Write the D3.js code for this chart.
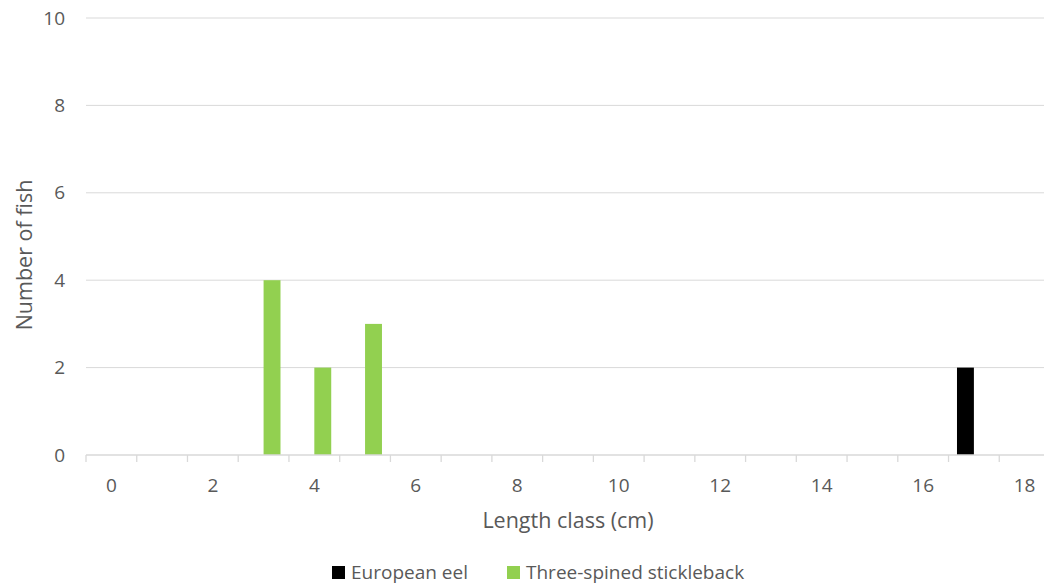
<!DOCTYPE html>
<html>
<head>
<meta charset="utf-8">
<script src="https://cdn.jsdelivr.net/npm/d3@7"></script>
<style>
  html, body { margin: 0; padding: 0; background: #fff; }
  svg { display: block; }
  text { font-family: "Open Sans", "Liberation Sans", sans-serif; fill: #595959; }
</style>
</head>
<body>
<svg id="chart" width="1044" height="584"></svg>
<script>
const categories = [0,1,2,3,4,5,6,7,8,9,10,11,12,13,14,15,16,17,18];
const seriesNames = ["European eel", "Three-spined stickleback"];
const eelValues = [0,0,0,0,0,0,0,0,0,0,0,0,0,0,0,0,0,2,0];
const sticklebackValues = [0,0,0,4,2,3,0,0,0,0,0,0,0,0,0,0,0,0,0];
const yTicks = [0,2,4,6,8,10];
const seriesColors = ["#000000", "#92D050"];

const svg = d3.select("#chart");
const plotLeft = 86, plotRight = 1050, plotTop = 18, plotBottom = 455;

const x0 = d3.scaleBand().domain(categories).range([plotLeft, plotRight]).paddingInner(0).paddingOuter(0);
const x1 = d3.scaleBand().domain(seriesNames).range([0, x0.bandwidth()]).paddingInner(0).paddingOuter(0.5);
const y = d3.scaleLinear().domain([0, 10]).range([plotBottom, plotTop]);

// gridlines
svg.append("g").selectAll("line").data(yTicks.filter(d => d > 0)).join("line")
  .attr("x1", plotLeft).attr("x2", plotRight)
  .attr("y1", d => y(d)).attr("y2", d => y(d))
  .attr("stroke", "#D9D9D9").attr("stroke-width", 1);

// y tick labels
svg.append("g").selectAll("text").data(yTicks).join("text")
  .attr("x", 65).attr("y", d => y(d))
  .attr("dy", "0.35em")
  .attr("text-anchor", "end")
  .style("font-size", "19px")
  .text(d => d);

// bars
const data = [eelValues, sticklebackValues];
seriesNames.forEach((s, i) => {
  svg.append("g").selectAll("rect").data(categories.map((c, j) => ({c, v: data[i][j]})).filter(d => d.v > 0)).join("rect")
    .attr("x", d => x0(d.c) + x1(s))
    .attr("width", x1.bandwidth())
    .attr("y", d => y(d.v))
    .attr("height", d => y(0) - y(d.v))
    .attr("fill", seriesColors[i]);
});

// x axis line + ticks
svg.append("line").attr("x1", plotLeft).attr("x2", plotRight).attr("y1", plotBottom).attr("y2", plotBottom)
  .attr("stroke", "#D9D9D9").attr("stroke-width", 1.3);
const boundaries = categories.map(c => x0(c)).concat([plotRight]);
svg.append("g").selectAll("line").data(boundaries).join("line")
  .attr("x1", d => d).attr("x2", d => d)
  .attr("y1", plotBottom).attr("y2", plotBottom + 7)
  .attr("stroke", "#D9D9D9").attr("stroke-width", 1.3);

// x tick labels (every other category)
svg.append("g").selectAll("text").data(categories.filter(c => c % 2 === 0)).join("text")
  .attr("x", d => x0(d) + x0.bandwidth() / 2)
  .attr("y", 492)
  .attr("text-anchor", "middle")
  .style("font-size", "19px")
  .text(d => d);

// axis titles
svg.append("text").attr("x", 568).attr("y", 528).attr("text-anchor", "middle")
  .style("font-size", "21.5px").text("Length class (cm)");
svg.append("text").attr("transform", "translate(32,255) rotate(-90)").attr("text-anchor", "middle")
  .style("font-size", "21.5px").text("Number of fish");

// legend
const legendItems = [
  {name: seriesNames[0], color: seriesColors[0], x: 332},
  {name: seriesNames[1], color: seriesColors[1], x: 507}
];
const lg = svg.append("g");
legendItems.forEach(it => {
  lg.append("rect").attr("x", it.x).attr("y", 566).attr("width", 13).attr("height", 13).attr("fill", it.color);
  lg.append("text").attr("x", it.x + 19).attr("y", 578.5).style("font-size", "19px").text(it.name);
});
</script>
</body>
</html>
